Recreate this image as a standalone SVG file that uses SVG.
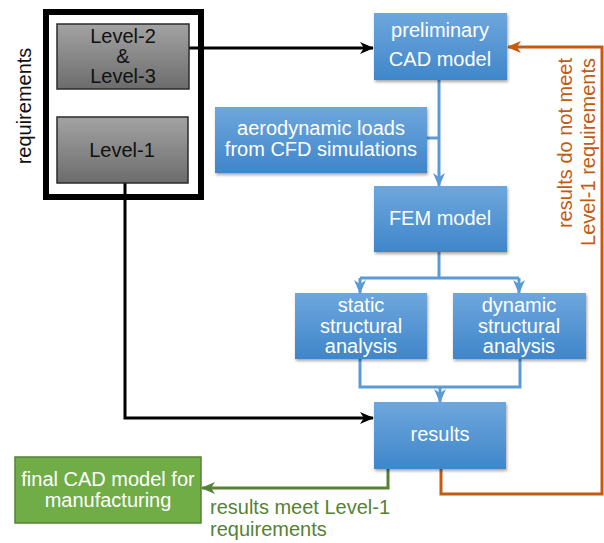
<svg xmlns="http://www.w3.org/2000/svg" width="604" height="543" viewBox="0 0 604 543">
<style>
text{font-family:"Liberation Sans",Arial,sans-serif;font-size:20px}
.bt{fill:#ffffff;text-anchor:middle}
.gt{fill:#111111;text-anchor:middle}
.box{fill:url(#gBlue);filter:url(#sh)}
.gray{fill:url(#gGray);stroke:#2b2b2b;stroke-width:1.5}
.cb{fill:none;stroke:#000000;stroke-width:3}
.cl{fill:none;stroke:#5b9bd5;stroke-width:3}
.co{fill:none;stroke:#c55a11;stroke-width:3}
.cg{fill:none;stroke:#548235;stroke-width:3}
</style>
<defs>
<linearGradient id="gBlue" x1="0" y1="0" x2="0" y2="1">
<stop offset="0" stop-color="#6ea7dd"/>
<stop offset="1" stop-color="#3f86ca"/>
</linearGradient>
<linearGradient id="gGray" x1="0" y1="0" x2="0" y2="1">
<stop offset="0" stop-color="#a3a3a3"/>
<stop offset="1" stop-color="#6c6c6c"/>
</linearGradient>
<filter id="sh" x="-10%" y="-10%" width="130%" height="130%">
<feDropShadow dx="1" dy="2" stdDeviation="1.5" flood-color="#000" flood-opacity="0.35"/>
</filter>
<marker id="aK" markerUnits="userSpaceOnUse" markerWidth="14" markerHeight="14" viewBox="0 0 14 14" refX="13" refY="7" orient="auto"><path d="M0,1 L14,7 L0,13 L4,7 z" fill="#000000"/></marker>
<marker id="aB" markerUnits="userSpaceOnUse" markerWidth="14" markerHeight="14" viewBox="0 0 14 14" refX="13" refY="7" orient="auto"><path d="M0,1 L14,7 L0,13 L4,7 z" fill="#5b9bd5"/></marker>
<marker id="aO" markerUnits="userSpaceOnUse" markerWidth="14" markerHeight="14" viewBox="0 0 14 14" refX="13" refY="7" orient="auto"><path d="M0,1 L14,7 L0,13 L4,7 z" fill="#c55a11"/></marker>
<marker id="aG" markerUnits="userSpaceOnUse" markerWidth="14" markerHeight="14" viewBox="0 0 14 14" refX="13" refY="7" orient="auto"><path d="M0,1 L14,7 L0,13 L4,7 z" fill="#548235"/></marker>
</defs>
<rect width="604" height="543" fill="#ffffff"/>

<g id="requirements">
<rect x="46" y="12" width="155" height="185" fill="#ffffff" stroke="#000000" stroke-width="6"/>
<text transform="translate(31,106) rotate(-90)" fill="#111" text-anchor="middle">requirements</text>
</g>

<g id="connectors">
<path class="cb" d="M189,48 H373" marker-end="url(#aK)"/>
<path class="cb" d="M125,183 V418 H373" marker-end="url(#aK)"/>
<path class="cl" d="M439,80 V186" marker-end="url(#aB)"/>
<path class="cl" d="M427,138 H439"/>
<path class="cl" d="M439,252 V278"/>
<path class="cl" d="M360,278 H519"/>
<path class="cl" d="M360,278 V293" marker-end="url(#aB)"/>
<path class="cl" d="M519,278 V293" marker-end="url(#aB)"/>
<path class="cl" d="M360,359 V387 H520 V359"/>
<path class="cl" d="M440,387 V402" marker-end="url(#aB)"/>
<path class="co" d="M441,469 V494 H602 V47 H508" marker-end="url(#aO)"/>
<path class="cg" d="M388,469 V488 H202" marker-end="url(#aG)"/>
</g>

<g id="level23">
<rect class="gray" x="57" y="24" width="132" height="65"/>
<text class="gt" x="123" y="43">Level-2</text>
<text class="gt" x="123" y="63">&amp;</text>
<text class="gt" x="123" y="83">Level-3</text>
</g>
<g id="level1">
<rect class="gray" x="57" y="117" width="131" height="66"/>
<text class="gt" x="122" y="157">Level-1</text>
</g>

<g id="prelim">
<rect class="box" x="374" y="13" width="133" height="67"/>
<text class="bt" x="440" y="37">preliminary</text>
<text class="bt" x="440" y="66">CAD model</text>
</g>
<g id="aero">
<rect class="box" x="215" y="107" width="212" height="66"/>
<text class="bt" x="321" y="135">aerodynamic loads</text>
<text class="bt" x="321" y="156">from CFD simulations</text>
</g>
<g id="fem">
<rect class="box" x="374" y="186" width="133" height="66"/>
<text class="bt" x="440" y="225">FEM model</text>
</g>
<g id="static">
<rect class="box" x="295" y="293" width="132" height="66"/>
<text class="bt" x="361" y="312">static</text>
<text class="bt" x="361" y="333">structural</text>
<text class="bt" x="361" y="353">analysis</text>
</g>
<g id="dynamic">
<rect class="box" x="453" y="293" width="133" height="66"/>
<text class="bt" x="519" y="312">dynamic</text>
<text class="bt" x="519" y="333">structural</text>
<text class="bt" x="519" y="353">analysis</text>
</g>
<g id="results">
<rect class="box" x="374" y="402" width="132" height="67"/>
<text class="bt" x="440" y="441">results</text>
</g>
<g id="final">
<rect x="15" y="457" width="186" height="66" fill="#70ad47" stroke="#548235" stroke-width="1.5"/>
<text class="bt" x="108" y="486">final CAD model for</text>
<text class="bt" x="108" y="507">manufacturing</text>
</g>

<g id="labels">
<text transform="translate(572,143) rotate(-90)" fill="#c55a11" text-anchor="middle">results do not meet</text>
<text transform="translate(595,152) rotate(-90)" fill="#c55a11" text-anchor="middle">Level-1 requirements</text>
<text x="210" y="514" fill="#548235">results meet Level-1</text>
<text x="210" y="536" fill="#548235">requirements</text>
</g>
</svg>
